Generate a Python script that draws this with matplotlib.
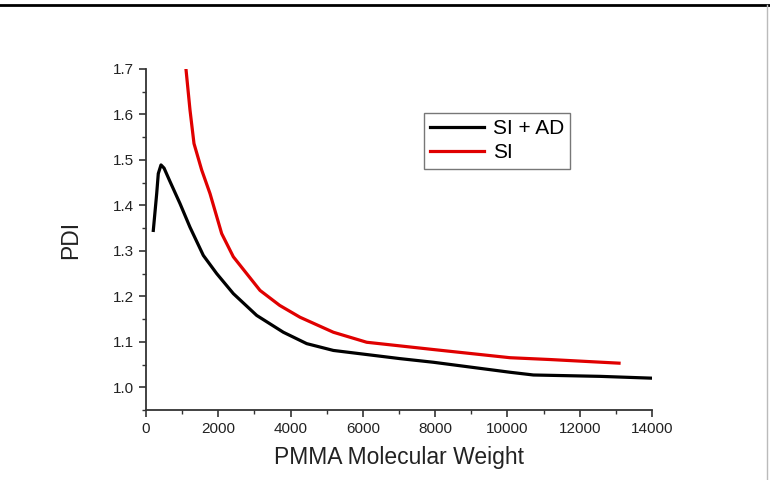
import matplotlib
matplotlib.use("Agg")
import matplotlib.pyplot as plt
from matplotlib.lines import Line2D
from matplotlib.ticker import MultipleLocator

plt.rcParams['font.family'] = ['Liberation Sans', 'DejaVu Sans']

si_ad_x = [202, 296, 340, 415, 500, 650, 941, 1217, 1586, 1956, 2416, 3063, 3800, 4446, 5184, 6106, 7028, 7950, 10072, 10718, 12563, 14000]
si_ad_y = [1.345, 1.426, 1.470, 1.489, 1.482, 1.455, 1.404, 1.352, 1.290, 1.250, 1.206, 1.158, 1.121, 1.096, 1.081, 1.072, 1.063, 1.055, 1.033, 1.027, 1.024, 1.020]

si_x = [1107, 1217, 1328, 1540, 1771, 2094, 2416, 2785, 3155, 3700, 4261, 5184, 6106, 7028, 7950, 10072, 11179, 13088]
si_y = [1.699, 1.610, 1.536, 1.478, 1.426, 1.338, 1.287, 1.250, 1.213, 1.180, 1.154, 1.121, 1.099, 1.091, 1.083, 1.065, 1.061, 1.053]

fig = plt.figure(figsize=(7.7, 4.8), dpi=100)
ax = fig.add_axes([146/770, 1-410/480, (652-146)/770, (410-69)/480])

ax.plot(si_ad_x, si_ad_y, color='black', lw=2.3, label='SI + AD', solid_joinstyle='round')
ax.plot(si_x, si_y, color='#e00000', lw=2.3, label='SI', solid_joinstyle='round')

ax.set_xlim(0, 14000)
ax.set_ylim(0.95, 1.7)
ax.xaxis.set_major_locator(MultipleLocator(2000))
ax.xaxis.set_minor_locator(MultipleLocator(1000))
ax.yaxis.set_minor_locator(MultipleLocator(0.05))
ax.set_yticks([1.0, 1.1, 1.2, 1.3, 1.4, 1.5, 1.6, 1.7])
ax.set_yticklabels(['1.0', '1.1', '1.2', '1.3', '1.4', '1.5', '1.6', '1.7'])

for s in ['top', 'right']:
    ax.spines[s].set_visible(False)
for s in ['left', 'bottom']:
    ax.spines[s].set_linewidth(1.3)
    ax.spines[s].set_color('#333333')
ax.tick_params(which='major', direction='out', length=5, width=1.2, color='#333333', labelsize=11, colors='#222222')
ax.tick_params(which='minor', direction='out', length=3, width=1.0, color='#333333')
ax.tick_params(axis='y', which='major', pad=4)

ax.set_xlabel('PMMA Molecular Weight', fontsize=16.5, color='#222222', labelpad=7)
ax.set_ylabel('PDI', fontsize=16.5, color='#222222', labelpad=22)

leg = ax.legend(loc='upper left', bbox_to_anchor=((424-146)/506, 1-(113-69)/341), fontsize=15,
                frameon=True, fancybox=False, edgecolor='#555555', handlelength=2.6,
                borderpad=0.3, labelspacing=0.25, handletextpad=0.4, borderaxespad=0)
leg.get_frame().set_linewidth(1.0)

fig.add_artist(Line2D([0, 1], [1-5/480, 1-5/480], color='black', lw=2.0, transform=fig.transFigure))
fig.add_artist(Line2D([767/770, 767/770], [0, 1-5/480], color='#bbbbbb', lw=1.0, transform=fig.transFigure))

fig.savefig('out.png', dpi=100)
